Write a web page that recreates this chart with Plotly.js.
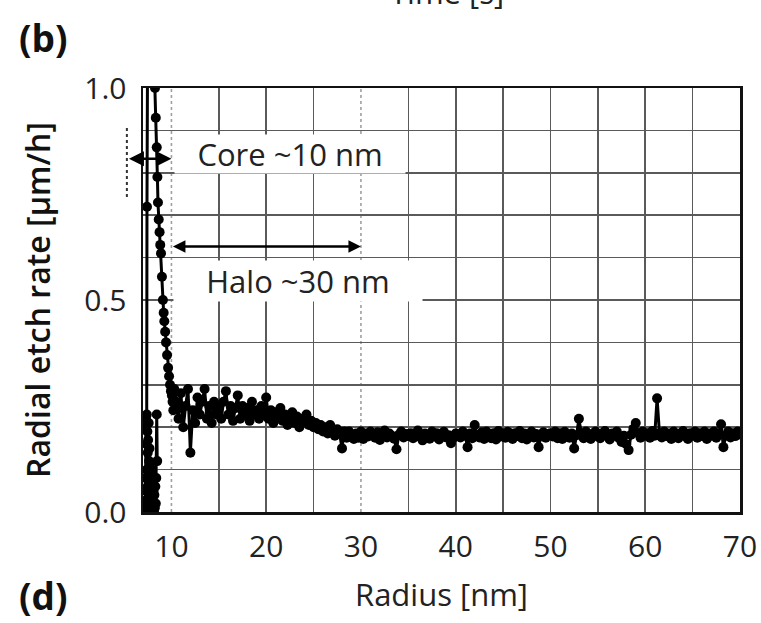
<!DOCTYPE html>
<html>
<head>
<meta charset="utf-8">
<script src="https://cdn.plot.ly/plotly-3.0.1.min.js"></script>
<style>html,body{margin:0;padding:0;background:#fff;}#chart{width:761px;height:623px;}</style>
</head>
<body>
<div id="chart"></div>
<script>
// ---- data ----
// noisy cluster at the very centre of the track
var clusterRadius = [7.26,7.28,7.30,7.32,7.34,7.36,7.38,7.40,7.42,7.44,7.46,7.48,7.50,7.52,7.54,7.56,7.58,7.60,7.62,7.64,
  7.66,7.68,7.70,7.73,7.76,7.79,7.82,7.85,7.88,7.91,7.94,7.97,8.00,8.04,8.08,8.12,8.16,8.20,8.25,8.30,8.35,8.40,8.45,8.50];
var clusterRate = [0.02,0.20,0.05,0.22,0.08,0.16,0.01,0.23,0.10,0.03,0.19,0.06,0.14,0.00,0.17,0.09,0.02,0.21,0.07,0.12,
  0.01,0.15,0.05,0.11,0.00,0.09,0.04,0.10,0.01,0.07,0.03,0.08,0.00,0.06,0.02,0.05,0.00,0.04,0.01,0.06,0.02,0.08,0.23,0.12];
// rising edge, core peak (clipped above 1.0) and decay
var spikeRadius = [7.38,7.42,7.48,8.15,8.27,8.35,8.45,8.52,8.58,8.66,8.75,8.82,8.90,9.00,9.10,9.18,9.25,9.34,9.43,9.54,
  9.65,9.75,9.85,9.95,10.05,10.12,10.20,10.30];
var spikeRate = [0.00,0.72,1.08,1.08,1.00,0.93,0.86,0.79,0.73,0.69,0.66,0.63,0.61,0.555,0.50,0.47,0.45,0.425,0.40,0.37,
  0.34,0.32,0.30,0.285,0.275,0.26,0.24,0.29];

// halo + background region, every 0.25 nm from 10.5 nm to 70 nm
var bandStart = 10.5, bandStep = 0.25;
var bandRate = [
  0.26,0.22,0.28,0.20,0.25,0.29,0.14,0.24,0.21,0.27,0.23,0.26,0.29,0.22,0.25,0.21,0.26,0.23,0.25,
  0.22,0.26,0.285,0.23,0.25,0.215,0.245,0.275,0.22,0.25,0.23,0.245,0.215,0.26,0.23,0.24,0.22,0.25,0.23,0.27,
  0.22,0.24,0.21,0.235,0.22,0.245,0.215,0.23,0.205,0.225,0.235,0.21,0.225,0.20,0.22,0.215,0.23,0.205,0.215,0.20,
  0.21,0.195,0.205,0.19,0.20,0.185,0.205,0.19,0.18,0.195,0.185,0.15,0.19,0.175,0.19,0.18,0.172,0.185,0.175,0.19,
  0.172,0.185,0.178,0.19,0.182,0.175,0.188,0.17,0.183,0.192,0.176,0.185,0.18,0.173,0.148,0.182,0.19,0.176,0.184,0.179,
  0.186,0.174,0.182,0.192,0.177,0.169,0.185,0.18,0.173,0.19,0.178,0.186,0.171,0.183,0.189,0.176,0.181,0.162,0.175,0.185,
  0.183,0.176,0.19,0.18,0.153,0.185,0.174,0.205,0.181,0.176,0.188,0.172,0.19,0.179,0.174,0.186,0.171,0.191,0.178,0.185,
  0.175,0.189,0.18,0.172,0.186,0.179,0.191,0.174,0.185,0.171,0.182,0.19,0.176,0.184,0.153,0.179,0.188,0.175,0.183,0.186,
  0.178,0.19,0.174,0.186,0.172,0.189,0.18,0.175,0.185,0.15,0.181,0.22,0.186,0.174,0.19,0.179,0.172,0.185,0.19,0.178,
  0.174,0.186,0.191,0.179,0.171,0.185,0.18,0.19,0.174,0.165,0.18,0.16,0.146,0.182,0.196,0.21,0.186,0.175,0.19,0.18,
  0.186,0.175,0.191,0.18,0.268,0.186,0.176,0.19,0.179,0.185,0.172,0.19,0.18,0.174,0.186,0.191,0.179,0.172,0.186,0.18,
  0.19,0.175,0.186,0.179,0.19,0.172,0.185,0.18,0.19,0.175,0.185,0.207,0.153,0.18,0.19,0.176,0.186,0.179,0.19,0.183
];
var bandRadius = bandRate.map(function(_, i){ return +(bandStart + i*bandStep).toFixed(2); });

var xTickVals = [10,20,30,40,50,60,70];
var xGridVals = [15,20,25,35,40,45,50,55,60,65];
var yTickVals = [0,0.1,0.2,0.3,0.4,0.5,0.6,0.7,0.8,0.9,1.0];
var yTickText = ["0.0","","","","","0.5","","","","","1.0"];
var markerLines = [10,30];

var radius = clusterRadius.concat(spikeRadius, bandRadius);
var etchRate = clusterRate.concat(spikeRate, bandRate);

var FONT = "Open Sans, sans-serif";
var GRID = "#5a5a5a";

var trace = {
  x: radius, y: etchRate, type: "scatter", mode: "lines+markers",
  line: {color: "#000", width: 3},
  marker: {color: "#000", size: 10},
  showlegend: false, hoverinfo: "x+y"
};

var shapes = markerLines.map(function(v){
  return {type:"line", xref:"x", yref:"paper", x0:v, x1:v, y0:0, y1:1,
          line:{color:"#a0a0a0", width:1.6, dash:"dot"}, layer:"below"};
});
shapes.push({type:"line", xref:"paper", yref:"paper", x0:-0.027, x1:-0.027, y0:0.743, y1:0.908,
             line:{color:"#333", width:2, dash:"dot"}});

var layout = {
  width: 761, height: 623,
  margin: {l:143, r:21, t:88, b:111, pad:0},
  paper_bgcolor: "#fff", plot_bgcolor: "#fff",
  font: {family: FONT, color: "#222", size: 30},
  xaxis: {
    range: [7,70], tickmode: "array", tickvals: xTickVals,
    ticks: "", showgrid: false, zeroline: false,
    showline: true, mirror: true, linecolor: "#111", linewidth: 2.5,
    tickfont: {size: 30, family: FONT, color:"#222"},
    ticklabelstandoff: 6,
    title: {text: "Radius [nm]", font: {size: 31, family: FONT, color:"#222"}, standoff: 20}
  },
  xaxis2: {
    range: [7,70], overlaying: "x", tickmode: "array", tickvals: xGridVals,
    showticklabels: false, ticks: "", showgrid: true, gridcolor: GRID, gridwidth: 1.6,
    zeroline: false, showline: false
  },
  yaxis: {
    range: [0,1.0], tickmode: "array", tickvals: yTickVals, ticktext: yTickText,
    ticks: "", showgrid: true, gridcolor: GRID, gridwidth: 1.6, zeroline: false,
    showline: true, mirror: true, linecolor: "#111", linewidth: 2.5,
    tickfont: {size: 30, family: FONT, color:"#222"},
    ticklabelstandoff: 8,
    title: {text: "Radial etch rate [µm/h]", font: {size: 32, family: FONT, color:"#111", weight: 600}, standoff: 24}
  },
  shapes: shapes,
  annotations: [
    {xref:"x", yref:"y", x:22.5, y:0.845, text:"Core ~10 nm", showarrow:false,
     bgcolor:"#fff", width:228, height:36, font:{size:31, family:FONT, color:"#222"}},
    {xref:"x", yref:"y", x:23.4, y:0.546, text:"Halo ~30 nm", showarrow:false,
     bgcolor:"#fff", width:246, height:38, font:{size:31, family:FONT, color:"#222"}},
    {xref:"x", yref:"y", x:10, y:0.833, ax:-44, ay:0, text:"", showarrow:true,
     arrowside:"end+start", arrowhead:2, arrowsize:1.2, arrowwidth:2.5, arrowcolor:"#000"},
    {xref:"x", yref:"y", x:30, y:0.626, axref:"x", ayref:"y", ax:10, ay:0.626, text:"", showarrow:true,
     arrowside:"end+start", arrowhead:2, arrowsize:1, arrowwidth:2.5, arrowcolor:"#000"},
    {xref:"paper", yref:"paper", x:-0.1675, y:1.12, xanchor:"center", yanchor:"middle",
     text:"<b>(b)</b>", showarrow:false, font:{size:37, family:FONT, color:"#111"}},
    {xref:"paper", yref:"paper", x:-0.1675, y:-0.198, xanchor:"center", yanchor:"middle",
     text:"<b>(d)</b>", showarrow:false, font:{size:37, family:FONT, color:"#111"}},
    {xref:"paper", yref:"paper", x:0.51, y:1.172, xanchor:"center", yanchor:"bottom",
     text:"Time [s]", showarrow:false, font:{size:31, family:FONT, color:"#222"}}
  ]
};

var gridTrace = {x:[], y:[], type:"scatter", xaxis:"x2", yaxis:"y", showlegend:false, hoverinfo:"skip"};

Plotly.newPlot("chart", [gridTrace, trace], layout, {staticPlot:true, displayModeBar:false});
</script>
</body>
</html>
